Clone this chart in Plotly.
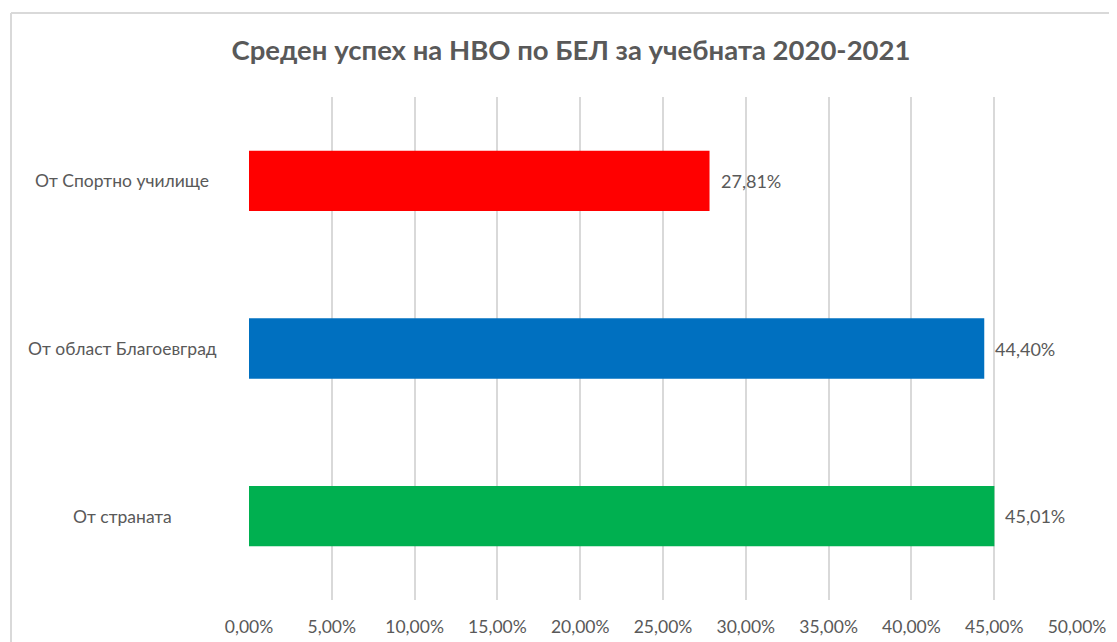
import plotly.graph_objects as go

categories = ["От Спортно училище", "От област Благоевград", "От страната"]
values = [0.2781, 0.4440, 0.4501]
colors = ["#FF0000", "#0070C0", "#00B050"]
title = "Среден успех на НВО по БЕЛ за учебната 2020-2021"
x_ticks = [i * 0.05 for i in range(11)]

OFF = 8  # browser body margin
W, H = 1117 - OFF, 642 - OFF
L, R, T, B = 249 - OFF, 40, 97 - OFF, 42
pw, ph = W - L - R, H - T - B
FONT = "Lato, Carlito, sans-serif"
GREY = "#595959"

def px_x(p):
    return (p - OFF - L) / pw

def px_y(p):
    return (H - B - (p - OFF)) / ph

fig = go.Figure()
fig.add_trace(go.Bar(
    y=categories, x=values, orientation="h",
    marker=dict(color=colors, line=dict(width=0)),
    hoverinfo="skip",
))

for c, v in zip(categories, values):
    fig.add_annotation(
        x=v, y=c, xref="x", yref="y",
        text=f"{v * 100:.2f}%".replace(".", ","), showarrow=False,
        xanchor="left", yanchor="middle", xshift=9,
        font=dict(family=FONT, size=18, color=GREY),
    )
    fig.add_annotation(
        x=px_x(122), xref="paper", y=c, yref="y",
        text=c, showarrow=False, xanchor="center", yanchor="middle",
        font=dict(family=FONT, size=17.5, color=GREY),
    )

fig.update_layout(
    width=W, height=H,
    margin=dict(l=L, r=R, t=T, b=B, autoexpand=False),
    paper_bgcolor="white", plot_bgcolor="white",
    separators=",.",
    bargap=0.64,
    showlegend=False,
    title=dict(
        text="<b>" + title + "</b>", x=(571 - OFF) / W, xanchor="center",
        y=1 - (50 - OFF) / H, yanchor="middle",
        font=dict(family=FONT, size=27.5, color=GREY),
    ),
    xaxis=dict(
        range=[0, 0.5], tickvals=x_ticks, tickformat=".2%",
        showgrid=True, gridcolor="#D9D9D9", gridwidth=1.5,
        zeroline=False, showline=False, ticks="",
        ticklabelstandoff=14,
        tickfont=dict(family=FONT, size=17.5, color=GREY),
        fixedrange=True,
    ),
    yaxis=dict(
        autorange="reversed", showticklabels=False, showgrid=False,
        zeroline=False, showline=False, ticks="", fixedrange=True,
    ),
    shapes=[
        dict(type="line", xref="paper", yref="paper",
             x0=px_x(11), x1=px_x(11), y0=px_y(660), y1=px_y(13),
             line=dict(color="#D9D9D9", width=2)),
        dict(type="line", xref="paper", yref="paper",
             x0=px_x(11), x1=px_x(1130), y0=px_y(13), y1=px_y(13),
             line=dict(color="#D9D9D9", width=2)),
    ],
)

fig.write_html("out.html")
